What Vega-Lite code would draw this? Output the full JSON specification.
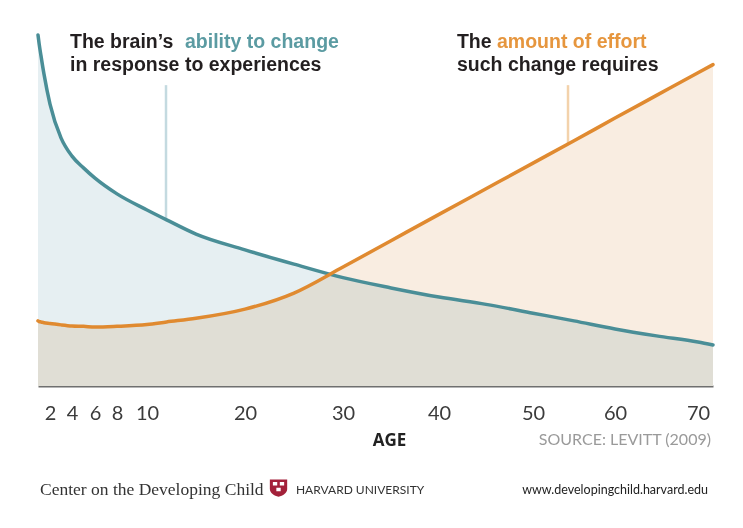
{
  "$schema": "https://vega.github.io/schema/vega-lite/v6.json",
  "width": 675,
  "height": 366,
  "autosize": {"type": "none"},
  "padding": {"left": 38, "top": 20, "right": 30, "bottom": 142},
  "background": "white",
  "config": {"view": {"stroke": null}, "font": "Lato"},
  "datasets": {
    "curves": [
      {"age": 1, "ability": 95.9, "effort": 17.8},
      {"age": 1.1, "ability": 93.4, "effort": 17.6},
      {"age": 1.25, "ability": 90.2, "effort": 17.5},
      {"age": 1.5, "ability": 85.2, "effort": 17.3},
      {"age": 2, "ability": 77.0, "effort": 17.1},
      {"age": 3, "ability": 67.8, "effort": 16.7},
      {"age": 4, "ability": 62.8, "effort": 16.4},
      {"age": 5, "ability": 59.6, "effort": 16.3},
      {"age": 6, "ability": 56.8, "effort": 16.1},
      {"age": 8, "ability": 52.5, "effort": 16.3},
      {"age": 10, "ability": 48.1, "effort": 16.8},
      {"age": 12, "ability": 45.4, "effort": 17.5},
      {"age": 15, "ability": 41.5, "effort": 18.5},
      {"age": 20, "ability": 37.2, "effort": 21.0},
      {"age": 25, "ability": 33.3, "effort": 25.4},
      {"age": 30, "ability": 29.6, "effort": 32.5},
      {"age": 35, "ability": 26.8, "effort": 39.7},
      {"age": 40, "ability": 24.3, "effort": 46.9},
      {"age": 45, "ability": 22.3, "effort": 53.9},
      {"age": 50, "ability": 19.9, "effort": 60.9},
      {"age": 55, "ability": 17.8, "effort": 67.0},
      {"age": 60, "ability": 15.6, "effort": 73.2},
      {"age": 65, "ability": 13.7, "effort": 79.4},
      {"age": 70, "ability": 12.0, "effort": 85.6},
      {"age": 72, "ability": 11.2, "effort": 87.8}
    ]
  },
  "layer": [
    {
      "data": {"name": "curves"},
      "mark": {"type": "area", "interpolate": "monotone", "color": "#e6eff2"},
      "encoding": {
        "x": {
          "field": "age",
          "type": "quantitative",
          "scale": {
            "type": "linear",
            "domain": [1, 2, 4, 6, 8, 10, 20, 30, 40, 50, 60, 70, 72],
            "range": [0, 12, 34, 57, 79, 109, 207, 305, 401, 495, 577, 660, 675],
            "nice": false,
            "zero": false
          },
          "axis": {
            "values": [2, 4, 6, 8, 10, 20, 30, 40, 50, 60, 70],
            "title": "AGE",
            "ticks": false,
            "grid": false,
            "labelFont": "Lato",
            "labelFontSize": 20,
            "labelColor": "#3b3b3b",
            "labelPadding": 17,
            "labelOverlap": false,
            "labelFlush": false,
            "domainColor": "#6f6f6f",
            "domainWidth": 2,
            "titleFont": "Open Sans",
            "titleFontSize": 17,
            "titleFontWeight": "bold",
            "titleColor": "#222222",
            "titlePadding": 9,
            "titleX": 351
          }
        },
        "y": {
          "field": "ability",
          "type": "quantitative",
          "scale": {"domain": [0, 100], "nice": false, "zero": true},
          "axis": null
        }
      }
    },
    {
      "data": {"name": "curves"},
      "mark": {"type": "area", "interpolate": "monotone", "color": "#f9ede1", "blend": "multiply"},
      "encoding": {
        "x": {"field": "age", "type": "quantitative"},
        "y": {"field": "effort", "type": "quantitative"}
      }
    },
    {
      "data": {"values": [{"age": 11.94, "top": 82.2, "bottom": 45.4}]},
      "mark": {"type": "rule", "color": "#c4dae0", "strokeWidth": 2.5},
      "encoding": {
        "x": {"field": "age", "type": "quantitative"},
        "y": {"field": "top", "type": "quantitative"},
        "y2": {"field": "bottom"}
      }
    },
    {
      "data": {"values": [{"age": 54.27, "top": 82.2, "bottom": 66.2}]},
      "mark": {"type": "rule", "color": "#f3d2ab", "strokeWidth": 2.5},
      "encoding": {
        "x": {"field": "age", "type": "quantitative"},
        "y": {"field": "top", "type": "quantitative"},
        "y2": {"field": "bottom"}
      }
    },
    {
      "data": {"name": "curves"},
      "mark": {"type": "line", "interpolate": "monotone", "color": "#4a8e97", "strokeWidth": 3.5, "strokeCap": "round"},
      "encoding": {
        "x": {"field": "age", "type": "quantitative"},
        "y": {"field": "ability", "type": "quantitative"}
      }
    },
    {
      "data": {"name": "curves"},
      "mark": {"type": "line", "interpolate": "monotone", "color": "#e08a30", "strokeWidth": 3.5, "strokeCap": "round"},
      "encoding": {
        "x": {"field": "age", "type": "quantitative"},
        "y": {"field": "effort", "type": "quantitative"}
      }
    },
    {
      "data": {"values": [
        {"age": 3.82, "v": 92.35, "label": "The brain’s"},
        {"age": 3.82, "v": 86.2, "label": "in response to experiences"},
        {"age": 41.91, "v": 92.35, "label": "The"},
        {"age": 41.91, "v": 86.2, "label": "such change requires"}
      ]},
      "mark": {"type": "text", "align": "left", "baseline": "alphabetic", "font": "Liberation Sans", "fontSize": 19.5, "letterSpacing": 0.4, "fontWeight": "bold", "color": "#231f20"},
      "encoding": {
        "x": {"field": "age", "type": "quantitative"},
        "y": {"field": "v", "type": "quantitative"},
        "text": {"field": "label"}
      }
    },
    {
      "data": {"values": [{"age": 13.88, "v": 92.35, "label": "ability to change"}]},
      "mark": {"type": "text", "align": "left", "baseline": "alphabetic", "font": "Liberation Sans", "fontSize": 19.5, "letterSpacing": 0.4, "fontWeight": "bold", "color": "#5b9ba2"},
      "encoding": {
        "x": {"field": "age", "type": "quantitative"},
        "y": {"field": "v", "type": "quantitative"},
        "text": {"field": "label"}
      }
    },
    {
      "data": {"values": [{"age": 46.17, "v": 92.35, "label": "amount of effort"}]},
      "mark": {"type": "text", "align": "left", "baseline": "alphabetic", "font": "Liberation Sans", "fontSize": 19.5, "letterSpacing": 0.4, "fontWeight": "bold", "color": "#e6963e"},
      "encoding": {
        "x": {"field": "age", "type": "quantitative"},
        "y": {"field": "v", "type": "quantitative"},
        "text": {"field": "label"}
      }
    },
    {
      "data": {"values": [{"age": 71.73, "v": -14.75, "label": "SOURCE: LEVITT (2009)"}]},
      "mark": {"type": "text", "align": "right", "baseline": "middle", "font": "Lato", "fontSize": 16, "letterSpacing": 2.2, "color": "#9a9a9a"},
      "encoding": {
        "x": {"field": "age", "type": "quantitative"},
        "y": {"field": "v", "type": "quantitative"},
        "text": {"field": "label"}
      }
    },
    {
      "data": {"values": [{"age": 1.17, "v": -28.4, "label": "Center on the Developing Child"}]},
      "mark": {"type": "text", "align": "left", "baseline": "middle", "font": "Liberation Serif", "fontSize": 17.5, "color": "#333333"},
      "encoding": {
        "x": {"field": "age", "type": "quantitative"},
        "y": {"field": "v", "type": "quantitative"},
        "text": {"field": "label"}
      }
    },
    {
      "data": {"values": [{"age": 25.2, "v": -28.3, "label": "HARVARD UNIVERSITY"}]},
      "mark": {"type": "text", "align": "left", "baseline": "middle", "font": "Lato", "fontSize": 12, "letterSpacing": 2.4, "color": "#333333"},
      "encoding": {
        "x": {"field": "age", "type": "quantitative"},
        "y": {"field": "v", "type": "quantitative"},
        "text": {"field": "label"}
      }
    },
    {
      "data": {"values": [{"age": 71.33, "v": -28.4, "label": "www.developingchild.harvard.edu"}]},
      "mark": {"type": "text", "align": "right", "baseline": "middle", "font": "Lato", "fontSize": 12.5, "color": "#222222"},
      "encoding": {
        "x": {"field": "age", "type": "quantitative"},
        "y": {"field": "v", "type": "quantitative"},
        "text": {"field": "label"}
      }
    },
    {
      "data": {"values": [{"age": 23.42, "v": -27.9}]},
      "layer": [
        {
          "mark": {"type": "point", "filled": true, "opacity": 1, "color": "#a3213a", "size": 300, "shape": "M-1,-1 L1,-1 L1,0.1 C1,0.6 0.5,0.85 0,1 C-0.5,0.85 -1,0.6 -1,0.1 Z"},
          "encoding": {
            "x": {"field": "age", "type": "quantitative"},
            "y": {"field": "v", "type": "quantitative"}
          }
        },
        {
          "mark": {"type": "point", "filled": true, "opacity": 1, "color": "#ffffff", "size": 300, "shape": "M-0.65,-0.7 L-0.15,-0.7 L-0.15,-0.3 L-0.65,-0.3 Z M0.15,-0.7 L0.65,-0.7 L0.65,-0.3 L0.15,-0.3 Z M-0.25,-0.05 L0.25,-0.05 L0.25,0.35 L-0.25,0.35 Z"},
          "encoding": {
            "x": {"field": "age", "type": "quantitative"},
            "y": {"field": "v", "type": "quantitative"}
          }
        }
      ]
    }
  ]
}
